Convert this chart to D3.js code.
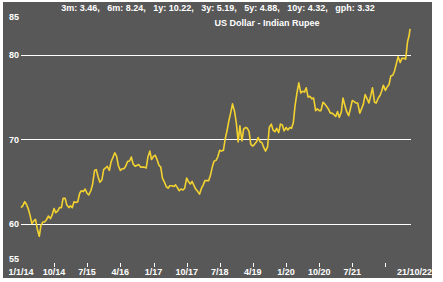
<!DOCTYPE html>
<html>
<head>
<meta charset="utf-8">
<script src="https://cdn.jsdelivr.net/npm/d3@7"></script>
<style>
  html, body { margin: 0; padding: 0; background: #fff; }
  svg { display: block; font-family: "Liberation Sans", Arial, sans-serif; font-weight: bold; }
</style>
</head>
<body>
<div id="vis"></div>
<script>
// USD/INR, values on the 1st and 15th of each month
const r2014 = [61.9, 62.1, 62.6, 62.3, 61.8, 61.1, 60.0, 60.3, 60.5, 59.4, 58.5, 59.8, 60.2, 60.2, 60.5, 60.9, 60.6, 61.0, 61.8, 61.3, 61.5, 61.9, 61.9, 63.0];
const r2015 = [63.0, 62.2, 61.9, 62.1, 61.9, 62.6, 62.5, 62.6, 63.6, 63.9, 63.8, 64.1, 63.6, 63.4, 63.9, 64.6, 66.3, 66.4, 65.5, 64.9, 65.2, 66.4, 66.6, 66.8];
const r2016 = [66.3, 67.3, 67.9, 68.4, 68.0, 66.9, 66.3, 66.5, 66.5, 66.8, 67.4, 67.4, 67.9, 67.1, 66.8, 66.9, 67.0, 66.7, 66.7, 66.7, 66.6, 67.9, 68.6, 67.6];
const r2017 = [68.0, 68.1, 67.5, 66.9, 66.7, 65.4, 64.9, 64.4, 64.2, 64.5, 64.5, 64.4, 64.6, 64.3, 63.9, 64.1, 64.0, 64.2, 65.4, 65.0, 64.7, 65.0, 64.5, 64.1];
const r2018 = [63.8, 63.5, 64.2, 64.6, 65.1, 65.1, 65.1, 65.7, 66.7, 67.4, 67.5, 67.9, 68.7, 68.6, 68.7, 70.0, 71.1, 72.2, 73.2, 74.2, 73.3, 72.0, 69.7, 71.6];
const r2019 = [69.8, 71.2, 71.4, 71.3, 70.9, 69.4, 69.2, 69.4, 69.7, 70.2, 69.7, 69.6, 69.0, 68.6, 69.1, 71.4, 71.8, 71.1, 70.9, 71.3, 70.8, 71.8, 71.7, 71.0];
const r2020 = [71.4, 71.1, 71.4, 71.3, 72.0, 74.0, 75.6, 76.7, 75.5, 75.7, 75.6, 76.1, 75.0, 75.1, 74.8, 74.9, 73.4, 73.6, 73.4, 73.4, 74.4, 74.2, 73.9, 73.6];
const r2021 = [73.1, 73.1, 72.9, 72.7, 73.3, 72.6, 73.2, 74.9, 74.0, 73.3, 72.8, 73.6, 74.6, 74.5, 74.3, 74.3, 73.1, 73.6, 74.2, 75.3, 74.8, 74.3, 75.2, 76.1];
const r2022 = [74.4, 74.3, 74.9, 75.2, 75.7, 76.4, 75.8, 76.2, 76.5, 77.5, 77.6, 78.1, 79.0, 79.8, 79.1, 79.6, 79.6, 79.5, 81.6, 82.4];
const lastDate = "2022-10-21";
const lastRate = 83.1;

const years = [2014, 2015, 2016, 2017, 2018, 2019, 2020, 2021, 2022];
const yearRates = [r2014, r2015, r2016, r2017, r2018, r2019, r2020, r2021, r2022];

const yTicks = [55, 60, 70, 80, 85];
const gridValues = [60, 70, 80];
const tickDates = ["2014-10-01", "2015-07-01", "2016-04-01", "2017-01-01", "2017-10-01",
                   "2018-07-01", "2019-04-01", "2020-01-01", "2020-10-01", "2021-07-01", "2022-04-01"];
const tickLabels = ["10/14", "7/15", "4/16", "1/17", "10/17", "7/18", "4/19", "1/20", "10/20", "7/21", ""];
const startLabel = "1/1/14";
const endLabel = "21/10/22";

const title = "3m: 3.46,   6m: 8.24,   1y: 10.22,   3y: 5.19,   5y: 4.88,   10y: 4.32,   gph: 3.32";
const subtitle = "US Dollar - Indian Rupee";

const parse = d3.utcParse("%Y-%m-%d");
const data = [];
years.forEach((y, k) => {
  yearRates[k].forEach((v, i) => {
    data.push({ date: new Date(Date.UTC(y, Math.floor(i / 2), i % 2 ? 15 : 1)), value: v });
  });
});
data.push({ date: parse(lastDate), value: lastRate });

const W = 443, H = 282;
const svg = d3.select("#vis").append("svg")
  .attr("width", W)
  .attr("height", H);

// panel
svg.append("rect")
  .attr("x", 3).attr("y", 2)
  .attr("width", 429).attr("height", 276)
  .attr("fill", "#585858");

const x = d3.scaleUtc()
  .domain([parse("2014-01-01"), parse(lastDate)])
  .range([21, 410]);
const y = d3.scaleLinear()
  .domain([55, 85])
  .range([265.8, 12.8]);

// grid lines
svg.selectAll(".grid")
  .data(gridValues)
  .join("line")
  .attr("x1", 21).attr("x2", 411)
  .attr("y1", d => Math.round(y(d)) + 0.5)
  .attr("y2", d => Math.round(y(d)) + 0.5)
  .attr("stroke", "#fff")
  .attr("stroke-width", 1.2);

// y labels (top and bottom pulled inside the panel)
svg.selectAll(".ylab")
  .data(yTicks)
  .join("text")
  .attr("x", 9)
  .attr("y", d => {
    let c = y(d);
    if (d === 85) c = 17;
    if (d === 55) c = 258.5;
    return c + 3.3;
  })
  .attr("fill", "#fff")
  .style("font-size", "9px")
  .text(d => d);

// x ticks
svg.selectAll(".xtick")
  .data(tickDates)
  .join("line")
  .attr("x1", d => Math.round(x(parse(d))) + 0.5)
  .attr("x2", d => Math.round(x(parse(d))) + 0.5)
  .attr("y1", 263).attr("y2", 267)
  .attr("stroke", "#fff")
  .attr("stroke-width", 1);

svg.selectAll(".xlab")
  .data(tickDates)
  .join("text")
  .attr("x", d => x(parse(d)))
  .attr("y", 274.5)
  .attr("text-anchor", "middle")
  .attr("fill", "#fff")
  .style("font-size", "9px")
  .text((d, i) => tickLabels[i]);

svg.append("text")
  .attr("x", x(parse("2014-01-01")))
  .attr("y", 274.5)
  .attr("text-anchor", "middle")
  .attr("fill", "#fff")
  .style("font-size", "9px")
  .text(startLabel);

svg.append("text")
  .attr("x", 432)
  .attr("y", 274.5)
  .attr("text-anchor", "end")
  .attr("fill", "#fff")
  .style("font-size", "9px")
  .text(endLabel);

// titles
svg.append("text")
  .attr("x", 218).attr("y", 10.5)
  .attr("text-anchor", "middle")
  .attr("fill", "#fff")
  .style("font-size", "9px")
  .style("white-space", "pre")
  .text(title);

svg.append("text")
  .attr("x", 267).attr("y", 26)
  .attr("text-anchor", "middle")
  .attr("fill", "#fff")
  .style("font-size", "9px")
  .text(subtitle);

// rate line
const line = d3.line()
  .x(d => x(d.date))
  .y(d => y(d.value));

svg.append("path")
  .datum(data)
  .attr("d", line)
  .attr("fill", "none")
  .attr("stroke", "#f2d230")
  .attr("stroke-width", 1.6)
  .attr("stroke-linejoin", "round");
</script>
</body>
</html>
